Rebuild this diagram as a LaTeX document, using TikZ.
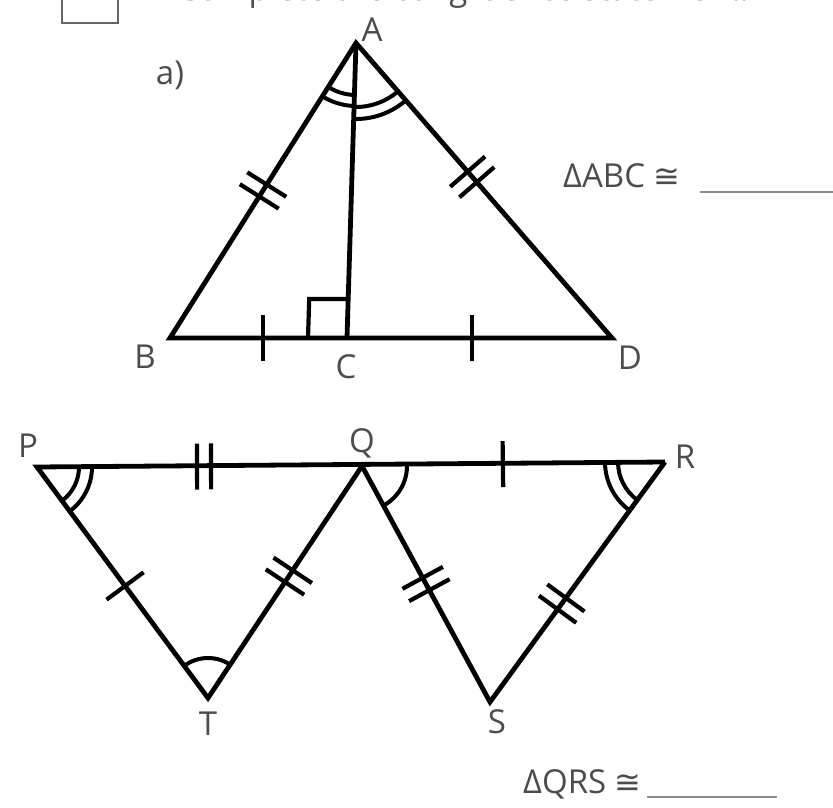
\documentclass[tikz,border=0pt]{standalone}
\usepackage{fontspec}
\setmainfont{Open Sans}
\newfontfamily\symfont{DejaVu Sans}
\usetikzlibrary{calc,angles}
\newcommand\onetick[3]{\path ($(#1)!#3!(#2)$) coordinate (tm);
  \draw[tickmark] ($(tm)!23pt!90:(#2)$) -- ($(tm)!23pt!-90:(#2)$);}
\newcommand\twotick[3]{\path ($(#1)!#3!(#2)$) coordinate (tm);
  \path ($(tm)!7pt!(#2)$) coordinate (tma) ($(tm)!-7pt!(#2)$) coordinate (tmb);
  \draw[tickmark] ($(tma)!23pt!90:(#2)$) -- ($(tma)!23pt!-90:(#2)$);
  \draw[tickmark] ($(tmb)!23pt!90:(#2)$) -- ($(tmb)!23pt!-90:(#2)$);}
\begin{document}
\begin{tikzpicture}[x=1pt,y=1pt,
  edge/.style={line width=4.8pt, line join=miter},
  tickmark/.style={line width=4.2pt},
  arcmark/.style={draw, line width=4pt},
  lbl/.style={text=black!70, font=\fontsize{33}{36}\selectfont, inner sep=0pt},
]
\useasboundingbox (0,0) rectangle (833,-808);

% top (cut off)
\draw[line width=2.5pt, black!60] (62,12) rectangle (118,-23);
\node[lbl, anchor=base west, text=black!70] (title) at (177,-1) {Complete the congruence statement.};

% points
\coordinate (A) at (356,-43);
\coordinate (B) at (170,-338);
\coordinate (C) at (347,-338);
\coordinate (D) at (612,-338);
\coordinate (P) at (37,-467);
\coordinate (Q) at (362,-466);
\coordinate (R) at (665,-462);
\coordinate (T) at (208,-698);
\coordinate (S) at (490,-702);

% triangle ABD
\draw[edge] (A) -- (B) -- (D) -- cycle;
\draw[edge] (A) -- (C);
\path ($(C)!39pt!(A)$) coordinate (E);
\draw[line width=4.2pt] ($(C)+(-39,0)$) -- ($(E)+(-39,0)$) -- (E);

\twotick{A}{B}{0.5}
\twotick{A}{D}{0.454}
\onetick{B}{C}{0.525}
\onetick{C}{D}{0.472}

\pic[arcmark, angle radius=52pt] {angle=B--A--C};
\pic[arcmark, angle radius=63pt] {angle=B--A--C};
\pic[arcmark, angle radius=64pt] {angle=C--A--D};
\pic[arcmark, angle radius=76pt] {angle=C--A--D};

% PQR figure
\draw[edge] (R) -- (P) -- (T) -- (Q) -- (S) -- (R);

\twotick{P}{Q}{0.514}
\onetick{Q}{R}{0.465}
\onetick{P}{T}{0.515}
\twotick{T}{Q}{0.525}
\twotick{Q}{S}{0.5}
\twotick{S}{R}{0.41}

\pic[arcmark, angle radius=42pt] {angle=T--P--Q};
\pic[arcmark, angle radius=55pt] {angle=T--P--Q};
\pic[arcmark, angle radius=45pt] {angle=S--Q--R};
\pic[arcmark, angle radius=47pt] {angle=Q--R--S};
\pic[arcmark, angle radius=60pt] {angle=Q--R--S};
\pic[arcmark, angle radius=40pt] {angle=Q--T--P};

% labels
\node[lbl] (lA) at (372,-30) {A};
\node[lbl] (la) at (170,-75) {a)};
\node[lbl] (lB) at (145,-357) {B};
\node[lbl] (lC) at (346,-367) {C};
\node[lbl] (lD) at (630,-358) {D};
\node[lbl] (lP) at (28,-446) {P};
\node[lbl] (lQ) at (362,-443) {Q};
\node[lbl] (lR) at (685,-457) {R};
\node[lbl] (lT) at (208,-724) {T};
\node[lbl] (lS) at (497,-722) {S};

% statements
\node[lbl, anchor=base west] (s1) at (563,-187) {ΔABC {\symfont\fontsize{32}{34}\selectfont ≅}};
\draw[line width=2.5pt, black!45] (700,-192) -- (833,-192);
\node[lbl, anchor=base west] (s2) at (523,-793) {ΔQRS {\symfont\fontsize{32}{34}\selectfont ≅}};
\draw[line width=2.5pt, black!45] (647,-797) -- (777,-797);
\end{tikzpicture}
\end{document}
